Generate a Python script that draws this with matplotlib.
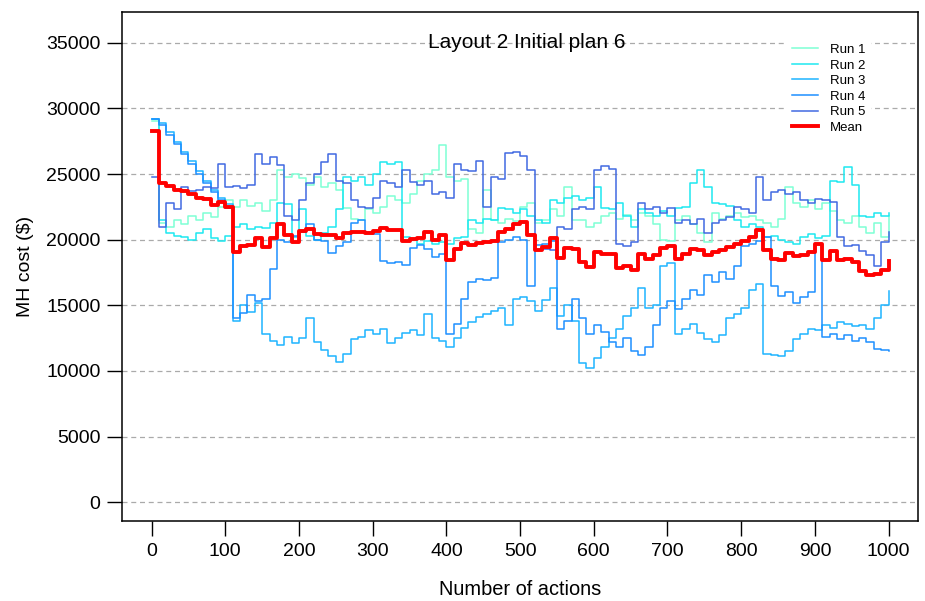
import numpy as np
import matplotlib
matplotlib.use('Agg')
from matplotlib import pyplot as plt

plt.rcParams['font.family'] = ['Liberation Sans', 'DejaVu Sans']

# values read every 10 actions
actions = list(range(0, 1001, 10))

run1 = [29000, 21300, 21000, 21500, 21200, 21800, 21500, 22000, 21700, 22500,
        23000, 22500, 23000, 22600, 22800, 22200, 23000, 25300, 24800, 25000,
        24700, 24200, 24800, 24000, 24300, 23800, 22400, 21600, 21500, 22300,
        22000, 22500, 23300, 23000, 22800, 23500, 24500, 25000, 25300, 27200,
        24800, 24500, 24600, 20800, 20500, 23800, 21500, 21300, 21600, 21400,
        22500, 22800, 21300, 21500, 22300, 21800, 24000, 21500, 21500, 21000,
        21300, 21800, 22000, 21600, 21900, 21500, 22000, 21800, 21200, 20000,
        19900, 21500, 21800, 21200, 20500, 19800, 22000, 21600, 21800, 22000,
        21700, 21800, 21500, 21300, 21000, 21600, 24000, 22800, 22500, 23000,
        22300, 22800, 22200, 21500, 21300, 21800, 21000, 20500, 21300, 20200,
        21800]

run2 = [29200, 21500, 20500, 20300, 20200, 20000, 20500, 20800, 20100, 19900,
        20300, 21000, 21200, 20800, 21000, 20900, 21300, 22800, 22700, 20200,
        22300, 20300, 20000, 20500, 21000, 22300, 24800, 24500, 24800, 24200,
        25000, 25900, 25800, 25900, 20200, 20000, 19700, 19900, 19700, 19800,
        19700, 20100, 20200, 21500, 21300, 21600, 21500, 22400, 22300, 22000,
        22300, 21800, 21500, 21300, 23000, 22800, 23200, 23300, 23000, 23200,
        24000, 22400, 22300, 22800, 21800, 21000, 22300, 22000, 21800, 22200,
        21800, 22400, 22500, 24300, 25300, 24000, 22800, 22700, 22600, 21500,
        21000, 21200, 21000, 20200, 20300, 20000, 19800, 19700, 20200, 20400,
        20100, 20300, 24500, 24400, 25500, 24200, 21800, 21700, 22000, 21800,
        22000]

run3 = [29200, 28900, 28200, 27400, 26700, 26000, 25200, 24500, 23800, 23200,
        22700, 13800, 15000, 14500, 15200, 12800, 12300, 12000, 12600, 12100,
        12500, 14000, 12200, 11600, 11100, 10700, 11300, 12400, 12600, 13100,
        12800, 13200, 12100, 12500, 12900, 13100, 12700, 14300, 12500, 12300,
        11800, 12500, 13300, 13700, 14100, 14300, 14600, 14800, 13500, 15500,
        15600, 15300, 14600, 15400, 16300, 14200, 15000, 13800, 10600, 10200,
        11000, 11800, 12500, 13200, 14200, 14800, 16300, 14800, 15000, 18000,
        18200, 12800, 13200, 13600, 12900, 12400, 12200, 12700, 14000, 14300,
        14800, 16200, 16600, 11300, 11200, 11100, 11500, 12400, 12800, 13200,
        13100, 13500, 13300, 13700, 13600, 13400, 13500, 13200, 14000, 15000,
        16100]

run4 = [29200, 28700, 28000, 27300, 26500, 25800, 25000, 24300, 23600, 23000,
        22400, 14000, 14400, 15800, 15300, 15500, 17800, 20000, 19800, 20300,
        20600, 21200, 20000, 19900, 19000, 19500, 19800, 21300, 21500, 20600,
        20400, 18400, 18200, 18300, 18100, 19400, 19600, 19300, 18700, 18900,
        12800, 13600, 15500, 16800, 17000, 16900, 17100, 19800, 20000, 20200,
        20000, 16500, 19600, 19700, 19900, 13200, 13800, 15500, 14000, 12800,
        13500, 13000, 12200, 11800, 12500, 11500, 11200, 11800, 13500, 14800,
        15300, 14700, 15500, 16200, 15800, 17300, 16800, 17500, 17000, 18000,
        19500, 19700, 19900, 20200, 16500, 15700, 16000, 15200, 15600, 16000,
        19700, 12600, 12800, 12400, 12700, 12300, 12500, 12200, 11700, 11600,
        11500]

run5 = [24800, 21000, 22800, 22300, 24000, 23700, 23800, 24000, 23900, 25800,
        24000, 24100, 23900, 24200, 26500, 25800, 26300, 25700, 21800, 21500,
        23000, 24300, 25000, 25900, 26500, 24500, 24300, 23000, 22500, 22400,
        23200, 24500, 24300, 24000, 25300, 24400, 24200, 24500, 23500, 23600,
        23200, 25800, 25300, 25200, 26000, 22500, 24800, 24600, 26600, 26700,
        26400, 25300, 19200, 19300, 19200, 21000, 20800, 22300, 22500, 22300,
        25300, 25600, 25400, 19700, 19500, 19800, 22800, 22300, 22500, 22000,
        22400, 21300, 21500, 21200, 21600, 20500, 21300, 21500, 21700, 22500,
        22300, 22000, 24800, 23000, 23600, 23800, 23500, 23600, 23000, 22800,
        23100, 23000, 22900, 20200, 19500, 19600, 19100, 18800, 18000, 19800,
        20600]

runs = [run1, run2, run3, run4, run5]
labels = ['Run 1', 'Run 2', 'Run 3', 'Run 4', 'Run 5']
colors = ['#7fffd4', '#1ee8f0', '#1eb4ff', '#1e90ff', '#4169e1']

mean_run = np.mean(np.array(runs), axis=0)

fig = plt.figure(figsize=(9.25, 6.01), dpi=100)
ax = fig.add_axes([0.132, 0.133, 0.8605, 0.847])

for run, lab, col in zip(runs, labels, colors):
    ax.plot(actions, run, color=col, lw=1.1, drawstyle='steps-post', label=lab)
ax.plot(actions, mean_run, color='red', lw=2.8, drawstyle='steps-post', label='Mean')

ax.set_xlim(-40, 1040)
ax.set_ylim(-1440, 37340)
ax.set_xticks(range(0, 1001, 100))
ax.set_yticks(range(0, 35001, 5000))
ax.yaxis.grid(True, linestyle=(0, (4, 3)), color='#aaaaaa', lw=0.9)
ax.set_axisbelow(True)

ax.tick_params(direction='out', length=10.5, width=1, labelsize=14, pad=5)
for sp in ax.spines.values():
    sp.set_linewidth(1.1)

ax.set_xlabel('Number of actions', fontsize=14.4, labelpad=15)
ax.set_ylabel('MH cost ($)', fontsize=14, labelpad=9)
ax.text(0.509, 0.941, 'Layout 2 Initial plan 6', transform=ax.transAxes,
        ha='center', va='center', fontsize=15)

leg = ax.legend(loc='upper left', bbox_to_anchor=(0.835, 0.948), fontsize=9.5,
                frameon=True, edgecolor='none', facecolor='white', framealpha=1,
                handlelength=2.0, handletextpad=0.9, labelspacing=0.25,
                borderpad=0.4, borderaxespad=0)

plt.savefig('out.png')
